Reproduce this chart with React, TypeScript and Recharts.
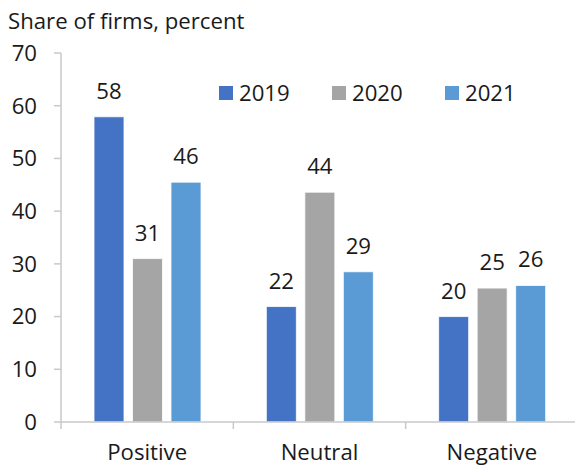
import React from 'react'
import { BarChart, Bar, XAxis, YAxis, LabelList } from 'recharts'

const categories = ['Positive', 'Neutral', 'Negative']
const years = ['2019', '2020', '2021']
const values2019 = [57.9, 21.9, 20.0]
const values2020 = [31.0, 43.6, 25.4]
const values2021 = [45.5, 28.5, 25.9]
const yTicks = [0, 10, 20, 30, 40, 50, 60, 70]

const colors = ['#4472C4', '#A5A5A5', '#5B9BD5']
const axisColor = '#C9C9C9'
const font = '"Open Sans", sans-serif'
const textColor = '#1a1a1a'
const fs = 22.2

const data = categories.map((c, i) => ({
  category: c,
  [years[0]]: values2019[i],
  [years[1]]: values2020[i],
  [years[2]]: values2021[i],
}))

function CategoryTick(props: any) {
  const { x, y, payload } = props
  const half = payload && payload.offset ? payload.offset : 86
  return (
    <g>
      <line x1={x - half} x2={x - half} y1={y} y2={y + 7} stroke={axisColor} strokeWidth={1.5} />
      <text x={x} y={y + 38} textAnchor="middle" fontSize={fs} fontFamily={font} fill={textColor}>
        {payload.value}
      </text>
    </g>
  )
}

// legend drawn as plain html so it doesn't push the plot down
function YearLegend() {
  return (
    <div style={{ position: 'absolute', left: 219, top: 77, display: 'flex', fontFamily: font, fontSize: fs, color: textColor }}>
      {years.map((yr, i) => (
        <div key={yr} style={{ width: 113, display: 'flex', alignItems: 'center' }}>
          <span style={{ display: 'inline-block', width: 14, height: 14, background: colors[i], marginRight: 6 }} />
          {yr}
        </div>
      ))}
    </div>
  )
}

export default function App() {
  return (
    <div style={{ position: 'absolute', left: 0, top: 0, width: 575, height: 465, overflow: 'hidden', background: '#fff' }}>
      <div style={{ position: 'absolute', left: 8, top: 5, fontFamily: font, fontSize: fs, color: textColor, whiteSpace: 'nowrap' }}>
        Share of firms, percent
      </div>
      <BarChart
        width={578}
        height={465}
        data={data}
        margin={{ top: 53, right: 0, left: 0, bottom: 0 }}
        barSize={30}
        barGap={8.5}
      >
        <XAxis
          dataKey="category"
          height={43}
          tickSize={0}
          tickMargin={0}
          axisLine={{ stroke: axisColor, strokeWidth: 1.5 }}
          tickLine={false}
          tick={<CategoryTick />}
          interval={0}
        />
        <YAxis
          width={61}
          domain={[0, 70]}
          ticks={yTicks}
          interval={0}
          tickSize={7}
          tickMargin={17}
          axisLine={{ stroke: axisColor, strokeWidth: 1.5 }}
          tickLine={{ stroke: axisColor, strokeWidth: 1.5 }}
          tick={{ fontSize: fs, fontFamily: font, fill: textColor }}
        />
        {years.map((yr, i) => (
          <Bar key={yr} dataKey={yr} name={yr} fill={colors[i]} stroke="#fff" strokeWidth={0.8} isAnimationActive={false}>
            <LabelList
              dataKey={yr}
              position="top"
              offset={18}
              formatter={(v: any) => Math.round(Number(v))}
              style={{ fontSize: fs, fontFamily: font, fill: textColor }}
            />
          </Bar>
        ))}
      </BarChart>
      <YearLegend />
    </div>
  )
}
